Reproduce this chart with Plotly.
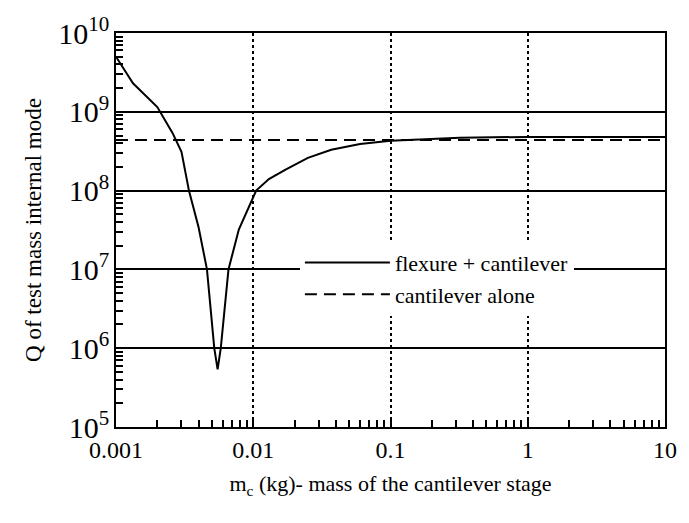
import plotly.graph_objects as go

# Data
mass_flex = [0.001, 0.00133, 0.002, 0.00258, 0.003, 0.0034, 0.004, 0.0046, 0.0052,
             0.0055, 0.0058, 0.0066, 0.00785, 0.0105, 0.013, 0.0172, 0.025, 0.037, 0.06, 0.1, 0.32, 1, 10]
q_flex = [5e9, 2.3e9, 1.15e9, 5.4e8, 3.1e8, 1e8, 3.4e7, 1e7, 1e6,
          5.4e5, 1e6, 1e7, 3.2e7, 1e8, 1.4e8, 1.85e8, 2.6e8, 3.3e8, 3.9e8, 4.3e8, 4.7e8, 4.8e8, 4.8e8]
mass_alone = [0.001, 10]
q_alone = [4.4e8, 4.4e8]

series_names = ["flexure + cantilever", "cantilever alone"]
x_tickvals = [0.001, 0.01, 0.1, 1, 10]
x_ticktext = ["0.001", "0.01", "0.1", "1", "10"]

# minor tick positions (2..9 in each decade)
x_minor = [d * 10.0 ** e for e in range(-3, 1) for d in range(2, 10)]
y_minor = [d * 10.0 ** e for e in range(5, 10) for d in range(2, 10)]

FONT = "Liberation Serif"

fig = go.Figure()
fig.add_trace(go.Scatter(x=mass_alone, y=q_alone, mode="lines", name=series_names[1],
                         xaxis="x2", yaxis="y2",
                         line=dict(color="black", width=2, dash="12px,7px")))
fig.add_trace(go.Scatter(x=mass_flex, y=q_flex, mode="lines", name=series_names[0],
                         line=dict(color="black", width=2)))

fig.update_layout(
    width=689, height=523,
    margin=dict(l=116, r=19, t=33, b=96),
    paper_bgcolor="white", plot_bgcolor="white",
    font=dict(family=FONT, color="black", size=20),
    showlegend=True,
    legend=dict(x=0.335, y=0.47, xanchor="left", yanchor="top",
                bgcolor="white", borderwidth=0, traceorder="reversed",
                font=dict(size=22, family=FONT), itemwidth=85,
                entrywidth=250, entrywidthmode="pixels",
                tracegroupgap=0, itemsizing="trace"),
    xaxis2=dict(type="log", range=[-3, 1], overlaying="x", anchor="y", side="bottom",
                tickmode="array", tickvals=x_minor, showticklabels=False,
                ticks="inside", ticklen=7, tickwidth=1.5, tickcolor="black",
                showgrid=False, showline=False, zeroline=False),
    yaxis2=dict(type="log", range=[5, 10], overlaying="y", anchor="x", side="left",
                tickmode="array", tickvals=y_minor, showticklabels=False,
                ticks="inside", ticklen=7, tickwidth=1.5, tickcolor="black",
                showgrid=False, showline=False, zeroline=False),
)
fig.layout.xaxis.update(
    type="log", range=[-3, 1],
    tickmode="array", tickvals=x_tickvals, ticktext=x_ticktext,
    showline=True, mirror=True, linecolor="black", linewidth=2,
    ticks="inside", ticklen=10, tickwidth=1.5, tickcolor="black",
    showgrid=True, gridcolor="black", gridwidth=1.5, griddash="dot",
    tickfont=dict(size=24, family=FONT),
    title=dict(text="m<sub>c</sub> (kg)- mass of the cantilever stage", font=dict(size=22, family=FONT), standoff=14),
    zeroline=False,
)
fig.layout.yaxis.update(
    type="log", range=[5, 10], dtick=1,
    exponentformat="power", showexponent="all",
    showline=True, mirror=True, linecolor="black", linewidth=2,
    ticks="inside", ticklen=10, tickwidth=1.5, tickcolor="black",
    showgrid=True, gridcolor="black", gridwidth=1.5, griddash="solid",
    tickfont=dict(size=24, family=FONT),
    title=dict(text="Q of test mass internal mode", font=dict(size=23, family=FONT), standoff=10),
    zeroline=False,
)

fig.write_html("out.html", config=dict(displayModeBar=False),
               post_script="document.body.style.margin='0';document.body.style.padding='0';")
